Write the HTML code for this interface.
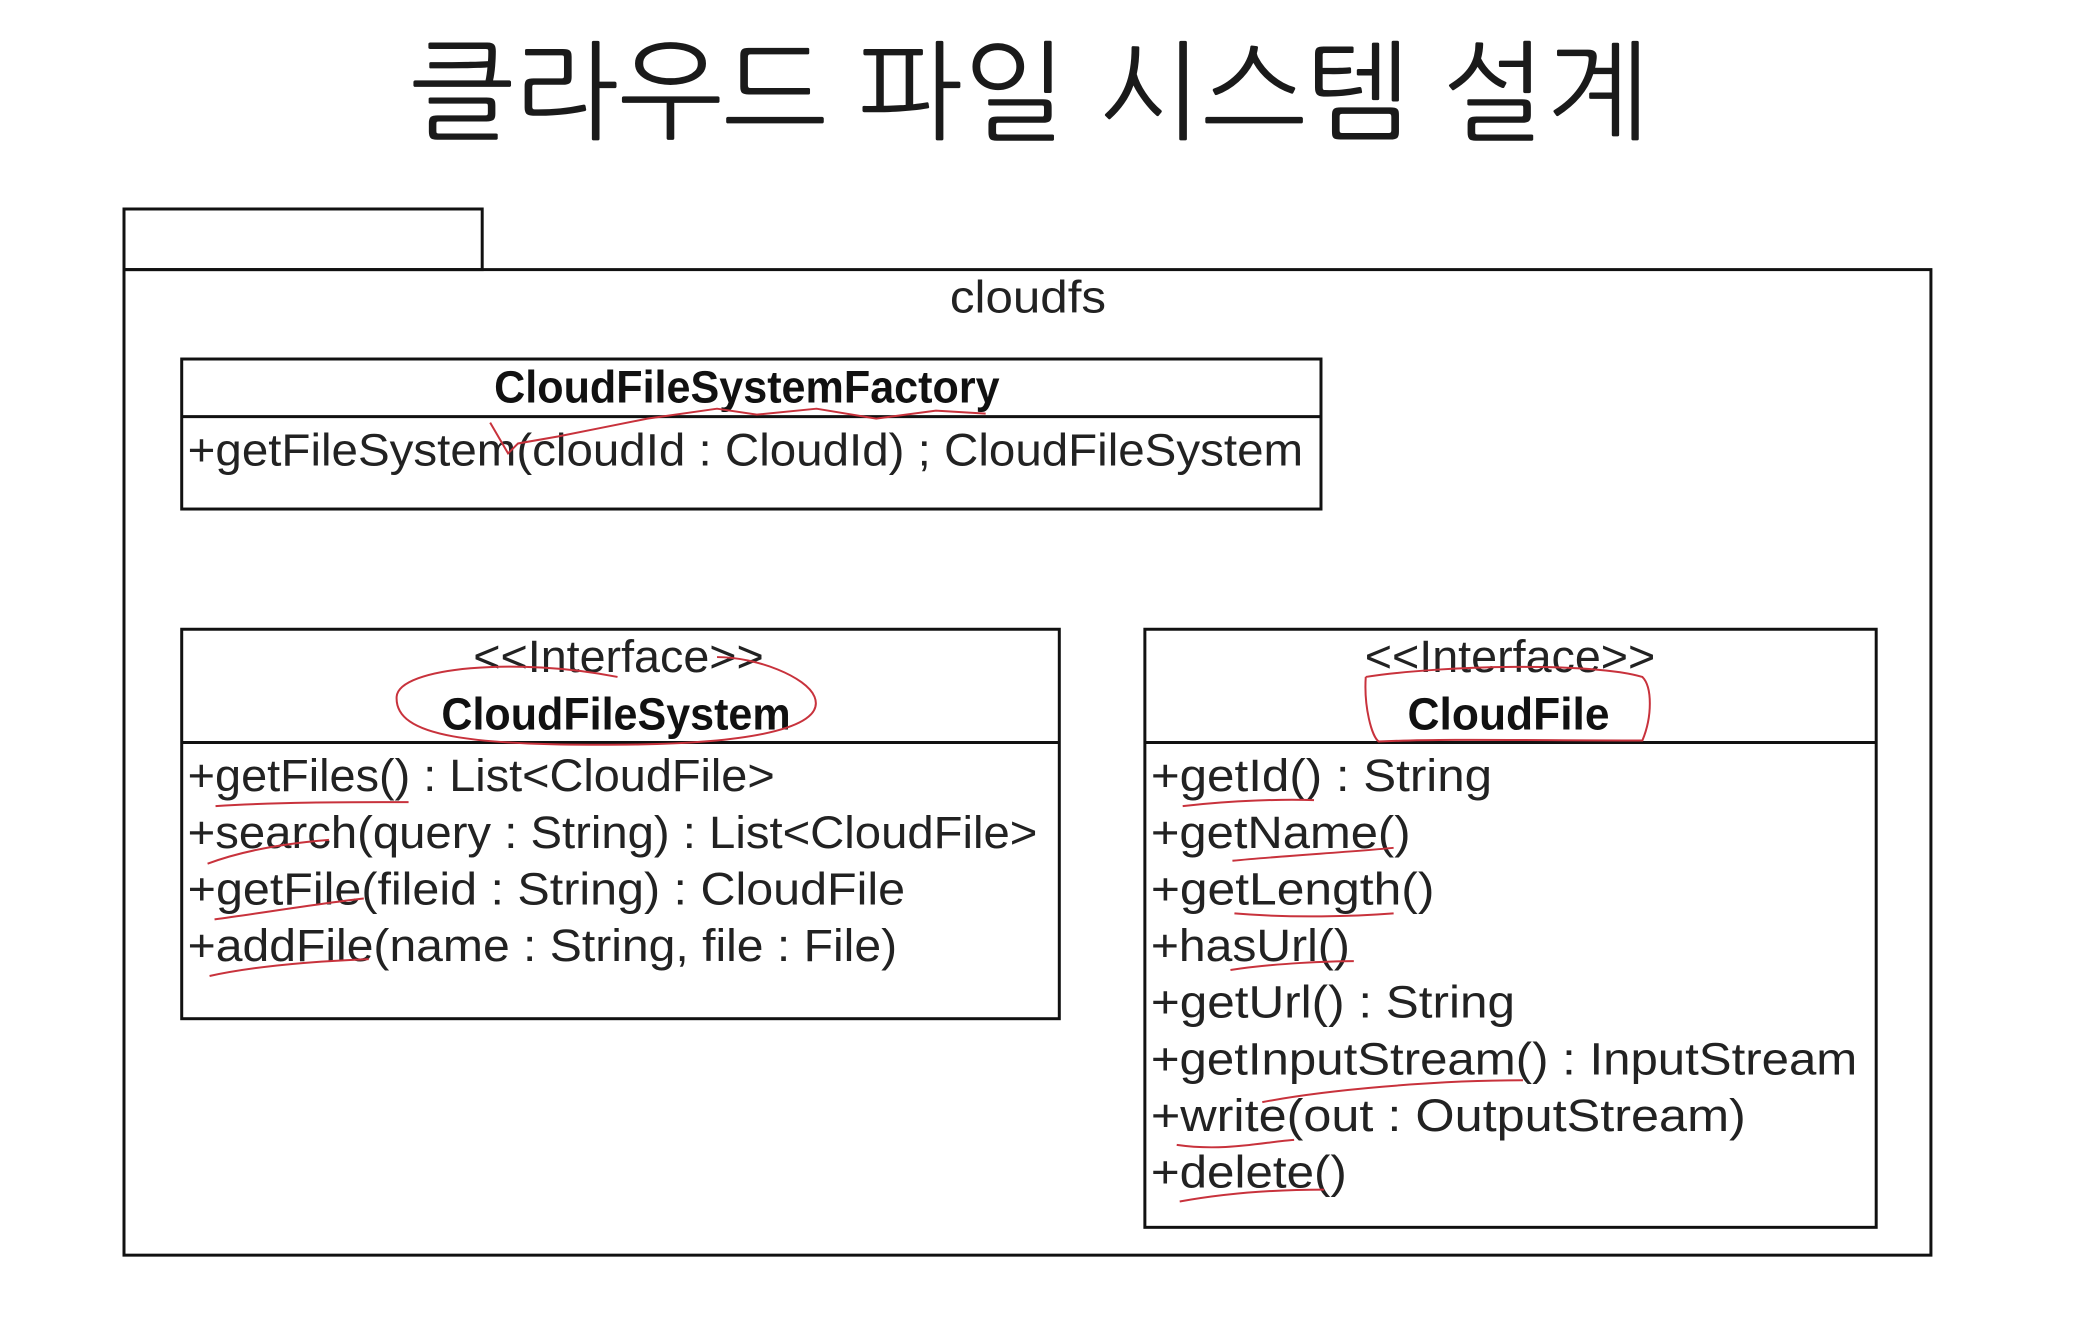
<!DOCTYPE html>
<html><head><meta charset="utf-8"><style>html,body{margin:0;padding:0;background:#fff}svg{display:block}</style></head>
<body>
<svg width="2074" height="1320" viewBox="0 0 2074 1320" xmlns="http://www.w3.org/2000/svg">
<g font-family="'Liberation Sans', 'NanumGothic', 'Noto Sans CJK KR', sans-serif" fill="#1a1a1a">
<text x="1030" y="130" font-size="108" text-anchor="middle" textLength="1240" lengthAdjust="spacingAndGlyphs" font-family="'NanumGothic','Noto Sans CJK KR',sans-serif">클라우드 파일 시스템 설계</text>
</g>
<g transform="translate(124 209) scale(0.995 0.9935) translate(-124 -209)">
<g fill="none" stroke="#111" stroke-width="3">
<rect x="124" y="209" width="360" height="61"/>
<rect x="124" y="270" width="1816" height="992"/>
<rect x="182" y="360" width="1145" height="151"/>
<line x1="182" y1="418" x2="1327" y2="418"/>
<rect x="182" y="632" width="882" height="392"/>
<line x1="182" y1="746" x2="1064" y2="746"/>
<rect x="1150" y="632" width="735" height="602"/>
<line x1="1150" y1="746" x2="1885" y2="746"/>
</g>
<g font-family="'Liberation Sans', sans-serif" font-size="46" fill="#222">
<text x="954" y="313" textLength="157" lengthAdjust="spacingAndGlyphs">cloudfs</text>
<text x="496" y="404" font-weight="bold" textLength="508" lengthAdjust="spacingAndGlyphs" fill="#111">CloudFileSystemFactory</text>
<text x="188" y="467" textLength="1121" lengthAdjust="spacingAndGlyphs">+getFileSystem(cloudId : CloudId) ; CloudFileSystem</text>
<text x="475" y="675" textLength="292" lengthAdjust="spacingAndGlyphs">&lt;&lt;Interface&gt;&gt;</text>
<text x="443" y="733" font-weight="bold" textLength="351" lengthAdjust="spacingAndGlyphs" fill="#111">CloudFileSystem</text>
<text x="188" y="795" textLength="590" lengthAdjust="spacingAndGlyphs">+getFiles() : List&lt;CloudFile&gt;</text>
<text x="188" y="852" textLength="854" lengthAdjust="spacingAndGlyphs">+search(query : String) : List&lt;CloudFile&gt;</text>
<text x="188" y="909" textLength="721" lengthAdjust="spacingAndGlyphs">+getFile(fileid : String) : CloudFile</text>
<text x="188" y="966" textLength="713" lengthAdjust="spacingAndGlyphs">+addFile(name : String, file : File)</text>
<text x="1371" y="675" textLength="292" lengthAdjust="spacingAndGlyphs">&lt;&lt;Interface&gt;&gt;</text>
<text x="1414" y="733" font-weight="bold" textLength="203" lengthAdjust="spacingAndGlyphs" fill="#111">CloudFile</text>
<text x="1156" y="795" textLength="343" lengthAdjust="spacingAndGlyphs">+getId() : String</text>
<text x="1156" y="852" textLength="261" lengthAdjust="spacingAndGlyphs">+getName()</text>
<text x="1156" y="909" textLength="285" lengthAdjust="spacingAndGlyphs">+getLength()</text>
<text x="1156" y="966" textLength="200" lengthAdjust="spacingAndGlyphs">+hasUrl()</text>
<text x="1156" y="1023" textLength="366" lengthAdjust="spacingAndGlyphs">+getUrl() : String</text>
<text x="1156" y="1080" textLength="710" lengthAdjust="spacingAndGlyphs">+getInputStream() : InputStream</text>
<text x="1156" y="1137" textLength="598" lengthAdjust="spacingAndGlyphs">+write(out : OutputStream)</text>
<text x="1156" y="1194" textLength="197" lengthAdjust="spacingAndGlyphs">+delete()</text>
</g>
<g fill="none" stroke="#c8323c" stroke-width="2">
<path d="M492 424 L510 455 L520 445 L560 438 L600 430 L650 420 L720 410 L760 416 L820 410 L880 420 L940 412 L990 415"/>
<path d="M620 680 C520 660 400 670 398 700 C396 740 470 750 640 748 C760 746 830 730 818 700 C810 680 760 660 720 660"/>
<path d="M1372 680 C1370 710 1378 740 1385 745 C1450 742 1540 744 1650 744 C1660 720 1660 690 1650 680 C1600 665 1450 668 1372 680"/>
<path d="M216 810 C280 806 340 806 410 806"/>
<path d="M208 868 C240 856 280 848 330 844"/>
<path d="M215 924 C260 918 320 908 365 903"/>
<path d="M210 981 C260 970 320 966 370 964"/>
<path d="M1188 810 C1240 804 1290 803 1320 804"/>
<path d="M1238 865 C1290 860 1360 856 1400 852"/>
<path d="M1240 918 C1300 923 1360 921 1400 918"/>
<path d="M1236 975 C1280 968 1340 966 1360 966"/>
<path d="M1268 1108 C1330 1096 1440 1086 1530 1086"/>
<path d="M1182 1151 C1230 1158 1270 1148 1300 1146"/>
<path d="M1185 1208 C1240 1198 1290 1196 1330 1196"/>
</g>
</g>
</svg>
</body></html>
